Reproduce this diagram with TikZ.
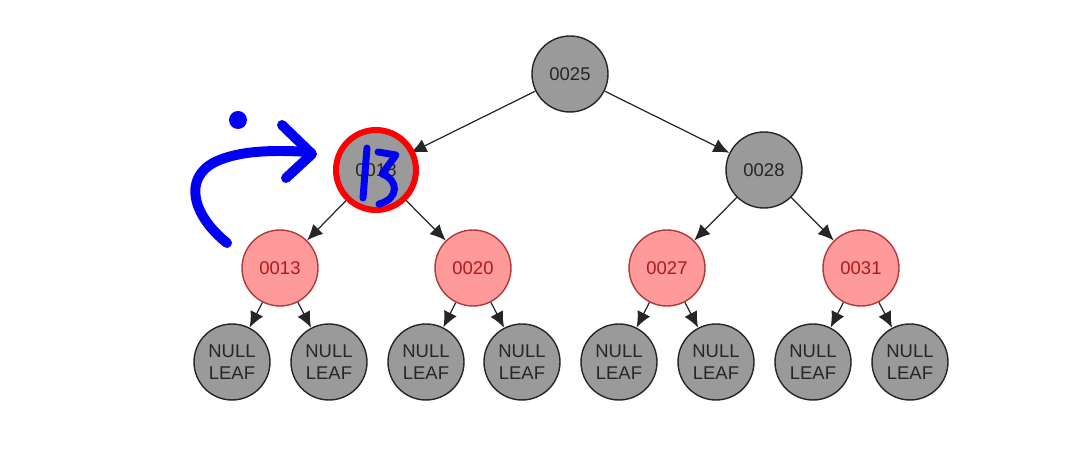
\documentclass[tikz,border=0pt]{standalone}
\usepackage{fontspec}
\setmainfont{Liberation Sans}
\usepackage{xcolor}
\usetikzlibrary{arrows.meta,positioning}
\definecolor{nodegray}{HTML}{9A9A9A}
\definecolor{nodepink}{HTML}{FF9A9A}
\definecolor{pinkline}{HTML}{B03A3A}
\definecolor{pinktext}{HTML}{B01818}
\definecolor{markblue}{HTML}{0000F5}
\tikzset{
  blacknode/.style={circle, draw=black!85, fill=nodegray, line width=0.8pt, minimum size=1.52cm, inner sep=0pt, align=center, font=\fontsize{10.5}{12.5}\selectfont, text=black!85},
  rednode/.style={circle, draw=pinkline, fill=nodepink, line width=0.8pt, minimum size=1.52cm, inner sep=0pt, text=pinktext, font=\fontsize{10.5}{12.5}\selectfont},
  farr/.style={-{Latex[length=9pt,width=8pt]}, black!85, line width=0.7pt},
  pen/.style={markblue, line width=10pt*0.02/0.0352778, line cap=round, line join=round}
}

\begin{document}
\begin{tikzpicture}[x=0.02cm, y=-0.02cm]
\useasboundingbox (0,0) rectangle (1080,455);
% inner nodes
\node[blacknode] (n25) at (570,74) {0025};
\node[blacknode] (n18) at (376,170) {0018};
\node[blacknode] (n28) at (764,170) {0028};
\node[rednode] (n13) at (280,268) {0013};
\node[rednode] (n20) at (473,268) {0020};
\node[rednode] (n27) at (667,268) {0027};
\node[rednode] (n31) at (861,268) {0031};
% leaves
\foreach \x [count=\i] in {232,329,426,522,619,716,813,910}
  \node[blacknode] (l\i) at (\x,362) {NULL\\LEAF};
% edges
\draw[farr] (n25)--(n18); \draw[farr] (n25)--(n28);
\draw[farr] (n18)--(n13); \draw[farr] (n18)--(n20);
\draw[farr] (n28)--(n27); \draw[farr] (n28)--(n31);
\draw[farr] (n13)--(l1); \draw[farr] (n13)--(l2);
\draw[farr] (n20)--(l3); \draw[farr] (n20)--(l4);
\draw[farr] (n27)--(l5); \draw[farr] (n27)--(l6);
\draw[farr] (n31)--(l7); \draw[farr] (n31)--(l8);
% hand drawn marks
\draw[red, line width=6pt*0.02/0.0352778] (n18.center) circle (40);
\fill[markblue] (238,120) circle (9);
\draw[pen] (227,243) .. controls (192,215) and (183,178) .. (215,162)
  .. controls (240,150) and (275,150) .. (310,152);
\draw[pen] (282,125) -- (312,154) -- (286,178);
\draw[pen, line width=7pt*0.02/0.0352778] (367,148) -- (363,198);
\draw[pen, line width=7pt*0.02/0.0352778] (378,152) -- (396,155) -- (382,174)
  .. controls (399,180) and (399,199) .. (379,204);
\end{tikzpicture}
\end{document}
